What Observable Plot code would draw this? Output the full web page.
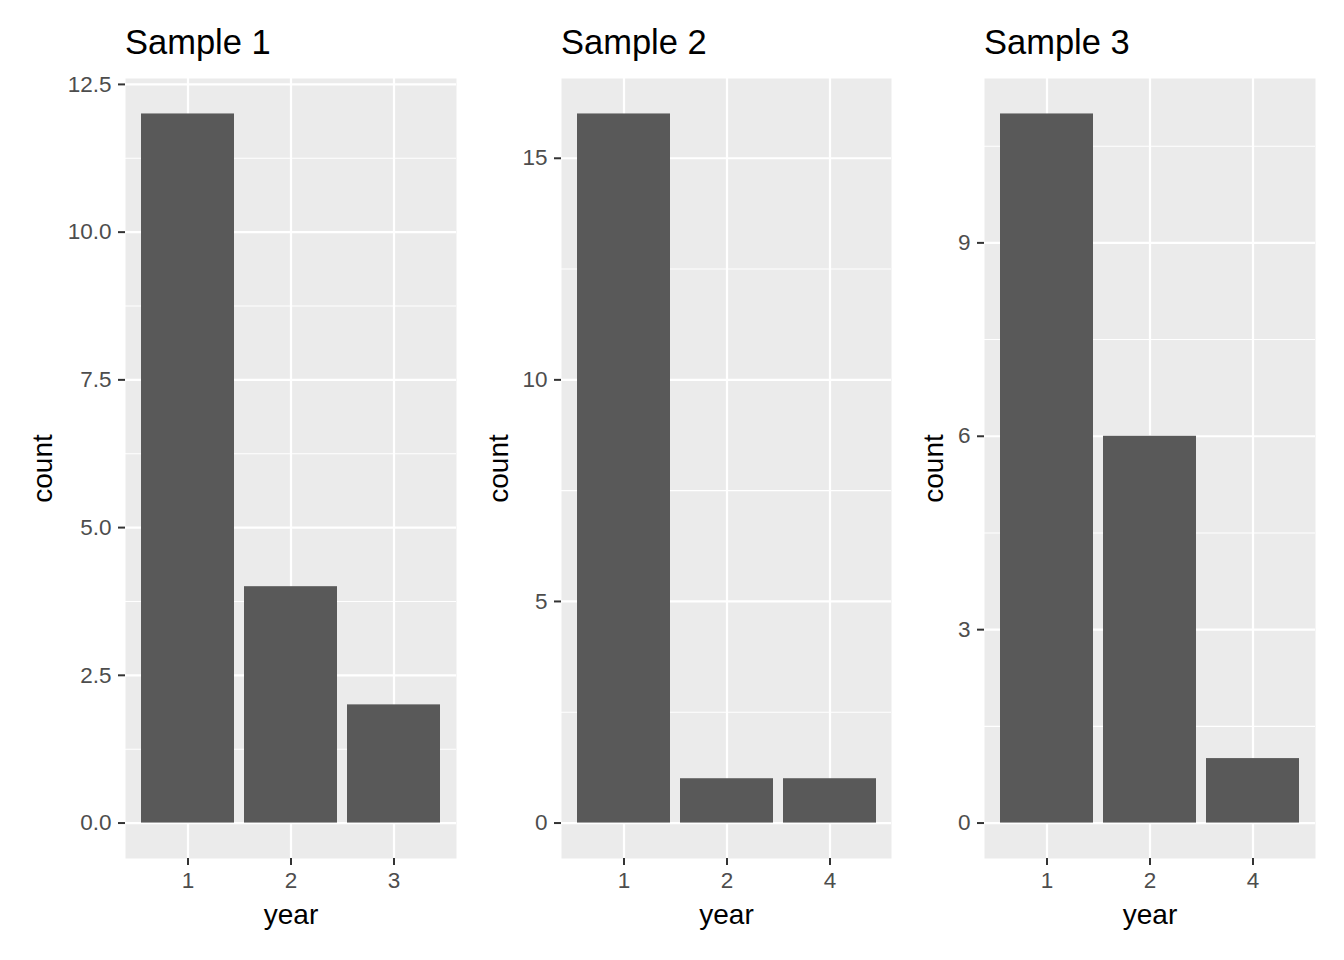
<!DOCTYPE html>
<html>
<head>
<meta charset="utf-8">
<script src="https://cdn.jsdelivr.net/npm/d3@7"></script>
<script src="https://cdn.jsdelivr.net/npm/@observablehq/plot@0.6"></script>
<style>
  html, body { margin: 0; padding: 0; background: white; overflow: hidden; }
  #wrap { position: relative; width: 1344px; height: 960px; font-family: "Liberation Sans", Arial, sans-serif; }
  .panel { position: absolute; top: 0; }
  .title { position: absolute; font-size: 34.5px; line-height: 34px; color: black; white-space: nowrap; }
  g[aria-label="x-axis label"], g[aria-label="y-axis label"] { font-size: 28px; fill: black; }
  g[aria-label="x-axis tick"], g[aria-label="y-axis tick"] { stroke: #333333; }
</style>
</head>
<body>
<div id="wrap"></div>
<script>
// ---- data ----
const titles = ["Sample 1", "Sample 2", "Sample 3"];
const years1 = ["1", "2", "3"];
const counts1 = [12, 4, 2];
const years2 = ["1", "2", "4"];
const counts2 = [16, 1, 1];
const years3 = ["1", "2", "4"];
const counts3 = [11, 6, 1];
const majorTicks1 = [0, 2.5, 5, 7.5, 10, 12.5];
const minorTicks1 = [1.25, 3.75, 6.25, 8.75, 11.25];
const majorTicks2 = [0, 5, 10, 15];
const minorTicks2 = [2.5, 7.5, 12.5];
const majorTicks3 = [0, 3, 6, 9];
const minorTicks3 = [1.5, 4.5, 7.5, 10.5];
const xLabel = "year";
const yLabel = "count";

// ---- layout ----
const layout = [
  {left: 0,   marginLeft: 125, width: 461, plotW: 331, labelOffset: 93, fmt: d3.format(".1f")},
  {left: 461, marginLeft: 100, width: 435, plotW: 330, labelOffset: 73, fmt: d3.format("d")},
  {left: 896, marginLeft: 88,  width: 448, plotW: 331, labelOffset: 61, fmt: d3.format("d")}
];
const panelData = [
  {years: years1, counts: counts1, major: majorTicks1, minor: minorTicks1},
  {years: years2, counts: counts2, major: majorTicks2, minor: minorTicks2},
  {years: years3, counts: counts3, major: majorTicks3, minor: minorTicks3}
];

const wrap = document.getElementById("wrap");
const H = 960, marginTop = 78, marginBottom = 102;

panelData.forEach((p, i) => {
  const L = layout[i];
  const rows = p.years.map((y, j) => ({year: y, count: p.counts[j]}));
  const maxC = d3.max(p.counts);
  const chart = Plot.plot({
    width: L.width,
    height: H,
    marginLeft: L.marginLeft,
    marginRight: L.width - L.marginLeft - L.plotW,
    marginTop,
    marginBottom,
    style: {fontFamily: '"Liberation Sans", Arial, sans-serif', background: "transparent", overflow: "visible"},
    x: {type: "band", domain: p.years, paddingInner: 0.1, paddingOuter: 0.15},
    y: {domain: [-0.05 * maxC, 1.05 * maxC]},
    marks: [
      Plot.frame({fill: "#ebebeb", stroke: null}),
      Plot.gridY(p.minor, {stroke: "white", strokeOpacity: 1, strokeWidth: 1.1}),
      Plot.gridY(p.major, {stroke: "white", strokeOpacity: 1, strokeWidth: 2.2}),
      Plot.gridX(p.years, {stroke: "white", strokeOpacity: 1, strokeWidth: 2.2}),
      Plot.barY(rows, {x: "year", y: "count", fill: "#595959"}),
      Plot.axisY(p.major, {
        tickSize: 7, tickPadding: 7, tickFormat: L.fmt, fontSize: 22.5, color: "#4d4d4d", strokeWidth: 2,
        label: yLabel, labelAnchor: "center", labelArrow: "none", labelOffset: L.labelOffset
      }),
      Plot.axisX(p.years, {
        tickSize: 7, tickPadding: 7, fontSize: 22.5, color: "#4d4d4d", strokeWidth: 2,
        label: xLabel, labelAnchor: "center", labelArrow: "none", labelOffset: 65
      })
    ]
  });
  const div = document.createElement("div");
  div.className = "panel";
  div.style.left = L.left + "px";
  div.appendChild(chart);
  wrap.appendChild(div);

  const t = document.createElement("div");
  t.className = "title";
  t.textContent = titles[i];
  t.style.left = (L.left + L.marginLeft) + "px";
  t.style.top = "25px";
  wrap.appendChild(t);
});
</script>
</body>
</html>
